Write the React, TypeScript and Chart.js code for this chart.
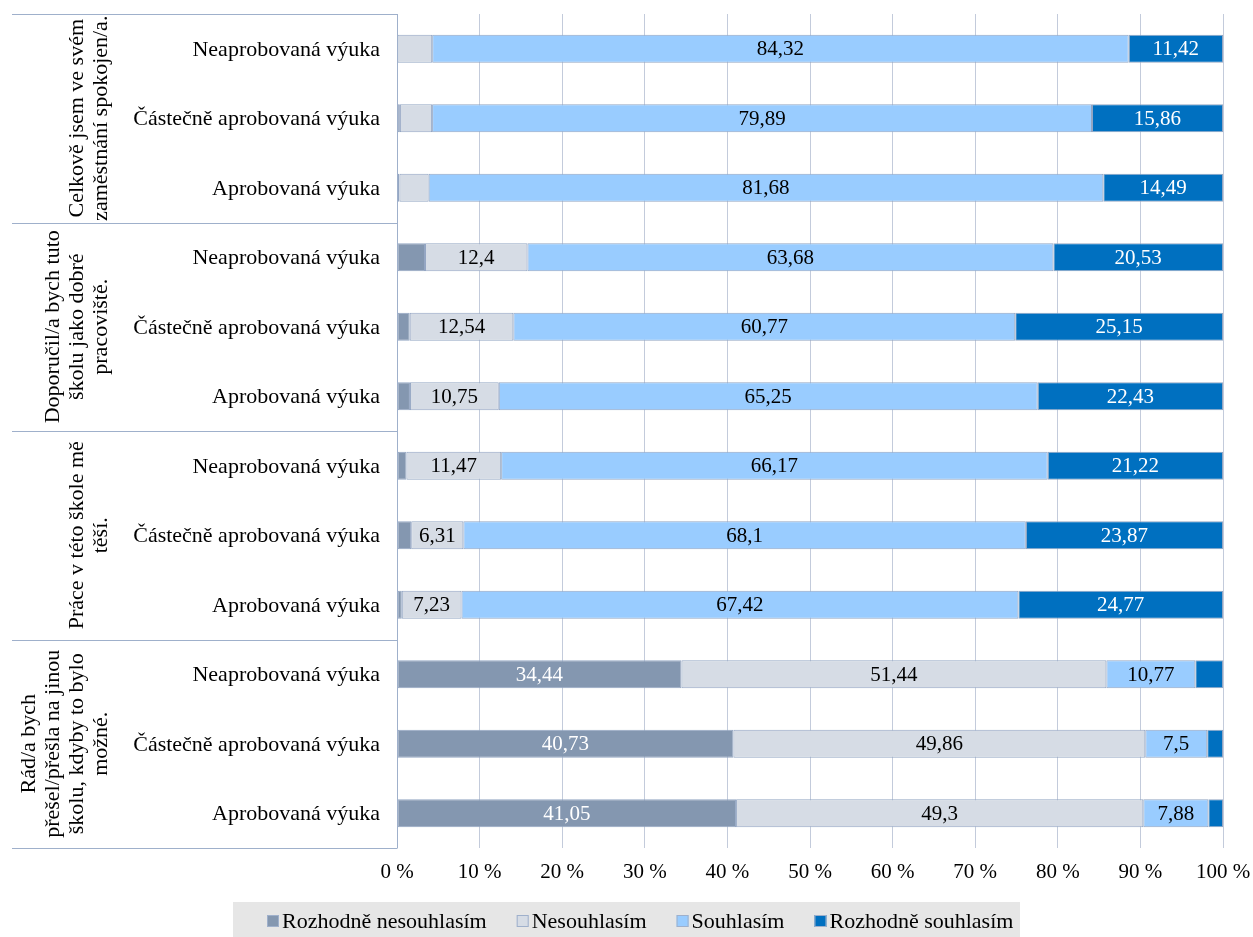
import React, { useEffect, useRef } from "react";
import { Chart, registerables } from "chart.js";

Chart.register(...registerables);

const categories = [
  "Neaprobovaná výuka",
  "Částečně aprobovaná výuka",
  "Aprobovaná výuka",
  "Neaprobovaná výuka",
  "Částečně aprobovaná výuka",
  "Aprobovaná výuka",
  "Neaprobovaná výuka",
  "Částečně aprobovaná výuka",
  "Aprobovaná výuka",
  "Neaprobovaná výuka",
  "Částečně aprobovaná výuka",
  "Aprobovaná výuka",
];

const groupLabels = [
  ["Celkově jsem ve svém", "zaměstnání spokojen/a."],
  ["Doporučil/a bych tuto", "školu jako dobré", "pracoviště."],
  ["Práce v této škole mě", "těší."],
  ["Rád/a bych", "přešel/přešla na jinou", "školu, kdyby to bylo", "možné."],
];
const groupSize = 3;

const seriesNames = ["Rozhodně nesouhlasím", "Nesouhlasím", "Souhlasím", "Rozhodně souhlasím"];

const rozhodneNesouhlasim = [0.05, 0.35, 0.3, 3.39, 1.54, 1.57, 1.14, 1.72, 0.58, 34.44, 40.73, 41.05];
const nesouhlasim = [4.21, 3.9, 3.53, 12.4, 12.54, 10.75, 11.47, 6.31, 7.23, 51.44, 49.86, 49.3];
const souhlasim = [84.32, 79.89, 81.68, 63.68, 60.77, 65.25, 66.17, 68.1, 67.42, 10.77, 7.5, 7.88];
const rozhodneSouhlasim = [11.42, 15.86, 14.49, 20.53, 25.15, 22.43, 21.22, 23.87, 24.77, 3.35, 1.91, 1.77];

const xTickValues = [0, 10, 20, 30, 40, 50, 60, 70, 80, 90, 100];

const colors = ["#8497b0", "#d6dce5", "#99ccff", "#0070c0"];
const labelColors = ["#ffffff", "#000000", "#000000", "#ffffff"];
const LABEL_MIN = 5;

const FONT = '"Liberation Serif", "Times New Roman", serif';

const overlayPlugin = {
  id: "overlay",
  afterDraw(chart: any) {
    const { ctx, chartArea } = chart;
    const { left, top, bottom } = chartArea;
    const y = chart.scales.y;
    ctx.save();

    // value labels
    ctx.font = `21px ${FONT}`;
    ctx.textAlign = "center";
    ctx.textBaseline = "middle";
    chart.data.datasets.forEach((ds: any, d: number) => {
      const meta = chart.getDatasetMeta(d);
      meta.data.forEach((el: any, i: number) => {
        const v = ds.data[i];
        if (v < LABEL_MIN) return;
        const cx = (el.x + el.base) / 2;
        ctx.fillStyle = labelColors[d];
        ctx.fillText(String(v).replace(".", ","), cx, el.y + 1);
      });
    });

    // axis line
    ctx.strokeStyle = "#9fb0cb";
    ctx.lineWidth = 1;
    const ax = Math.round(left) + 0.5;
    ctx.beginPath();
    ctx.moveTo(ax, top);
    ctx.lineTo(ax, bottom);
    ctx.stroke();

    // group separators
    const bounds: number[] = [top];
    for (let g = 1; g < groupLabels.length; g++) {
      const a = y.getPixelForValue(g * groupSize - 1);
      const b = y.getPixelForValue(g * groupSize);
      bounds.push((a + b) / 2);
    }
    bounds.push(bottom);
    bounds.forEach((by) => {
      const yy = Math.round(by) + 0.5;
      ctx.beginPath();
      ctx.moveTo(12, yy);
      ctx.lineTo(ax, yy);
      ctx.stroke();
    });

    // category labels
    ctx.fillStyle = "#000";
    ctx.font = `22px ${FONT}`;
    ctx.textAlign = "right";
    ctx.textBaseline = "middle";
    categories.forEach((c, i) => {
      ctx.fillText(c, left - 17, y.getPixelForValue(i) + 1);
    });

    // group labels (rotated)
    ctx.textAlign = "center";
    groupLabels.forEach((lines, g) => {
      const cy = (bounds[g] + bounds[g + 1]) / 2;
      const n = lines.length;
      lines.forEach((ln, i) => {
        const lx = 101 - (n - 1 - i) * 24;
        ctx.save();
        ctx.translate(lx, cy);
        ctx.rotate(-Math.PI / 2);
        ctx.fillText(ln, 0, 0);
        ctx.restore();
      });
    });

    // legend
    ctx.fillStyle = "#e6e6e6";
    ctx.fillRect(233, 902, 787, 35);
    ctx.font = `22px ${FONT}`;
    ctx.textAlign = "left";
    ctx.textBaseline = "middle";
    let lx = 267;
    const ly = 921;
    seriesNames.forEach((name, i) => {
      ctx.fillStyle = colors[i];
      ctx.fillRect(lx, ly - 6, 12, 12);
      ctx.strokeStyle = "#9fb0cb";
      ctx.strokeRect(lx + 0.5, ly - 5.5, 11, 11);
      ctx.fillStyle = "#000";
      ctx.fillText(name, lx + 15, ly + 1);
      lx += 15 + ctx.measureText(name).width + 30;
    });

    ctx.restore();
  },
};

export default function App() {
  const ref = useRef<HTMLCanvasElement | null>(null);

  useEffect(() => {
    if (!ref.current) return;
    const datasets = [rozhodneNesouhlasim, nesouhlasim, souhlasim, rozhodneSouhlasim].map((data, i) => ({
      label: seriesNames[i],
      data,
      backgroundColor: colors[i],
      borderColor: "#94a6c3",
      borderWidth: 1,
      borderSkipped: false,
      barPercentage: 0.4,
      categoryPercentage: 1,
    }));
    const chart = new Chart(ref.current, {
      type: "bar",
      data: { labels: categories, datasets },
      plugins: [overlayPlugin],
      options: {
        indexAxis: "y",
        animation: false,
        responsive: false,
        devicePixelRatio: 1,
        layout: { padding: { left: 397, top: 14, right: 30, bottom: 0 } },
        plugins: { legend: { display: false }, tooltip: { enabled: false } },
        scales: {
          x: {
            stacked: true,
            min: 0,
            max: 100,
            afterBuildTicks: (scale: any) => {
              scale.ticks = xTickValues.map((v) => ({ value: v }));
            },
            afterFit: (scale: any) => {
              scale.height = 89;
              scale.paddingLeft = 0;
              scale.paddingRight = 0;
            },
            grid: { color: "#c3cbdb", lineWidth: 1, drawTicks: false },
            border: { display: false },
            ticks: {
              padding: 12,
              color: "#000",
              font: { family: FONT, size: 21 },
              maxRotation: 0,
              callback: (v: any) => `${v} %`,
            },
          },
          y: {
            stacked: true,
            display: false,
          },
        },
      } as any,
    });
    return () => chart.destroy();
  }, []);

  return (
    <div style={{ position: "fixed", left: 0, top: 0, width: 1253, height: 937, background: "#fff" }}>
      <canvas ref={ref} width={1253} height={937} />
    </div>
  );
}
